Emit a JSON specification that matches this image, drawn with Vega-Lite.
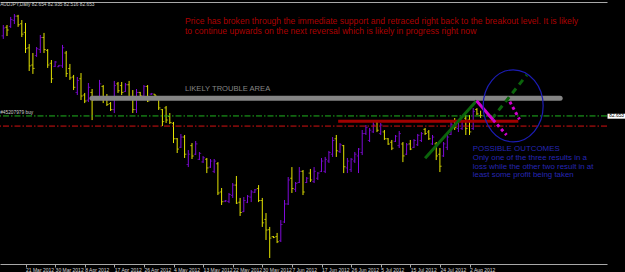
{
  "$schema": "https://vega.github.io/schema/vega-lite/v6.json",
  "autosize": {"type": "none"},
  "width": 607,
  "height": 262,
  "padding": {"left": 0, "top": 2, "right": 18, "bottom": 8},
  "background": "#000000",
  "config": {"view": {"stroke": null}, "font": "Liberation Sans", "text": {"font": "Liberation Sans"}},
  "datasets": {
    "bars": [
      {"i":0,"o":87.30,"h":87.93,"l":87.12,"c":87.75},
      {"i":1,"o":87.80,"h":87.93,"l":87.29,"c":87.64},
      {"i":2,"o":87.85,"h":88.40,"l":87.76,"c":88.25},
      {"i":3,"o":88.20,"h":88.57,"l":87.99,"c":88.45},
      {"i":4,"o":88.45,"h":88.52,"l":87.82,"c":87.95},
      {"i":5,"o":88.00,"h":88.22,"l":87.23,"c":87.40},
      {"i":6,"o":87.50,"h":88.05,"l":86.30,"c":86.55},
      {"i":7,"o":86.60,"h":86.82,"l":85.25,"c":85.55},
      {"i":8,"o":85.60,"h":86.30,"l":85.08,"c":85.40},
      {"i":9,"o":86.15,"h":86.65,"l":86.07,"c":86.55},
      {"i":10,"o":86.50,"h":87.35,"l":86.30,"c":87.20},
      {"i":11,"o":87.20,"h":87.47,"l":86.30,"c":86.50},
      {"i":12,"o":86.45,"h":86.53,"l":85.43,"c":85.60},
      {"i":13,"o":85.70,"h":85.89,"l":84.55,"c":84.80},
      {"i":14,"o":85.52,"h":85.83,"l":85.48,"c":85.78},
      {"i":15,"o":85.50,"h":85.60,"l":85.48,"c":85.58},
      {"i":16,"o":85.55,"h":86.77,"l":85.43,"c":86.60},
      {"i":17,"o":86.30,"h":86.42,"l":84.90,"c":85.10},
      {"i":18,"o":85.40,"h":85.66,"l":84.73,"c":84.85},
      {"i":19,"o":84.90,"h":85.02,"l":84.14,"c":84.30},
      {"i":20,"o":84.00,"h":84.90,"l":83.85,"c":84.70},
      {"i":21,"o":84.80,"h":85.13,"l":83.56,"c":83.80},
      {"i":22,"o":83.85,"h":83.97,"l":83.38,"c":83.50},
      {"i":23,"o":83.55,"h":84.55,"l":83.44,"c":84.30},
      {"i":24,"o":84.00,"h":84.20,"l":82.39,"c":83.56},
      {"i":25,"o":83.70,"h":83.73,"l":83.56,"c":83.58},
      {"i":26,"o":83.65,"h":84.73,"l":83.56,"c":84.50},
      {"i":27,"o":84.35,"h":84.43,"l":83.38,"c":83.60},
      {"i":28,"o":83.70,"h":83.91,"l":83.21,"c":83.30},
      {"i":29,"o":83.35,"h":83.44,"l":82.92,"c":83.00},
      {"i":30,"o":83.00,"h":84.67,"l":82.80,"c":84.40},
      {"i":31,"o":84.50,"h":84.61,"l":83.97,"c":84.10},
      {"i":32,"o":84.40,"h":84.61,"l":83.85,"c":84.00},
      {"i":33,"o":84.05,"h":84.55,"l":84.03,"c":84.45},
      {"i":34,"o":84.45,"h":84.67,"l":83.56,"c":83.70},
      {"i":35,"o":83.75,"h":84.14,"l":82.80,"c":83.00},
      {"i":36,"o":83.00,"h":84.20,"l":82.80,"c":84.00},
      {"i":37,"o":84.00,"h":84.03,"l":83.73,"c":83.80},
      {"i":38,"o":83.80,"h":84.43,"l":83.56,"c":84.35},
      {"i":39,"o":84.35,"h":84.43,"l":83.44,"c":83.50},
      {"i":40,"o":83.90,"h":83.97,"l":83.85,"c":83.92},
      {"i":41,"o":83.90,"h":83.91,"l":83.79,"c":83.80},
      {"i":42,"o":83.75,"h":83.79,"l":82.98,"c":83.10},
      {"i":43,"o":83.00,"h":83.03,"l":82.04,"c":82.30},
      {"i":44,"o":83.10,"h":83.21,"l":82.22,"c":82.40},
      {"i":45,"o":82.60,"h":82.80,"l":82.16,"c":82.25},
      {"i":46,"o":82.20,"h":82.28,"l":81.05,"c":81.30},
      {"i":47,"o":81.30,"h":81.34,"l":80.47,"c":80.70},
      {"i":48,"o":80.80,"h":81.58,"l":80.76,"c":81.40},
      {"i":49,"o":81.40,"h":81.52,"l":80.18,"c":80.40},
      {"i":50,"o":79.80,"h":80.64,"l":79.65,"c":80.40},
      {"i":51,"o":80.90,"h":81.05,"l":80.12,"c":80.30},
      {"i":52,"o":80.40,"h":81.17,"l":80.35,"c":81.00},
      {"i":53,"o":80.10,"h":80.53,"l":80.06,"c":80.45},
      {"i":54,"o":79.95,"h":80.29,"l":79.89,"c":80.20},
      {"i":55,"o":80.10,"h":80.18,"l":79.30,"c":79.60},
      {"i":56,"o":79.65,"h":80.12,"l":79.60,"c":80.00},
      {"i":57,"o":79.40,"h":80.12,"l":79.30,"c":80.00},
      {"i":58,"o":79.85,"h":79.94,"l":78.02,"c":78.14},
      {"i":59,"o":78.20,"h":78.43,"l":77.44,"c":77.63},
      {"i":60,"o":77.66,"h":77.73,"l":77.61,"c":77.68},
      {"i":61,"o":77.65,"h":78.14,"l":77.55,"c":78.05},
      {"i":62,"o":78.00,"h":78.72,"l":77.85,"c":78.60},
      {"i":63,"o":78.60,"h":79.13,"l":77.50,"c":77.55},
      {"i":64,"o":77.60,"h":77.85,"l":76.80,"c":77.00},
      {"i":65,"o":77.05,"h":77.90,"l":77.03,"c":77.70},
      {"i":66,"o":77.60,"h":78.02,"l":77.55,"c":77.95},
      {"i":67,"o":77.90,"h":78.31,"l":77.61,"c":78.20},
      {"i":68,"o":78.18,"h":78.37,"l":78.14,"c":78.33},
      {"i":69,"o":78.40,"h":78.60,"l":77.61,"c":77.70},
      {"i":70,"o":77.70,"h":77.85,"l":76.16,"c":76.40},
      {"i":71,"o":76.60,"h":76.97,"l":75.40,"c":75.98},
      {"i":72,"o":76.00,"h":76.16,"l":74.35,"c":75.51},
      {"i":73,"o":75.60,"h":75.63,"l":75.51,"c":75.55},
      {"i":74,"o":75.60,"h":75.81,"l":75.22,"c":75.30},
      {"i":75,"o":75.35,"h":76.56,"l":75.28,"c":76.30},
      {"i":76,"o":76.45,"h":77.73,"l":76.39,"c":77.50},
      {"i":77,"o":77.50,"h":79.07,"l":77.44,"c":78.90},
      {"i":78,"o":79.00,"h":79.65,"l":78.14,"c":78.40},
      {"i":79,"o":78.35,"h":78.78,"l":78.20,"c":78.70},
      {"i":80,"o":78.75,"h":79.65,"l":78.72,"c":79.40},
      {"i":81,"o":79.40,"h":79.48,"l":78.02,"c":78.20},
      {"i":82,"o":78.75,"h":79.07,"l":78.72,"c":79.00},
      {"i":83,"o":79.30,"h":79.54,"l":78.78,"c":78.90},
      {"i":84,"o":78.80,"h":79.65,"l":78.72,"c":79.40},
      {"i":85,"o":79.00,"h":79.36,"l":78.90,"c":79.30},
      {"i":86,"o":79.40,"h":80.18,"l":79.36,"c":80.00},
      {"i":87,"o":79.40,"h":80.24,"l":79.30,"c":80.10},
      {"i":88,"o":80.00,"h":80.59,"l":79.89,"c":80.50},
      {"i":89,"o":80.40,"h":81.40,"l":80.24,"c":81.20},
      {"i":90,"o":81.30,"h":81.52,"l":80.24,"c":80.60},
      {"i":91,"o":80.55,"h":81.05,"l":80.47,"c":80.95},
      {"i":92,"o":80.90,"h":80.94,"l":79.30,"c":79.67},
      {"i":93,"o":79.60,"h":80.18,"l":79.30,"c":80.00},
      {"i":94,"o":79.50,"h":80.18,"l":79.36,"c":80.10},
      {"i":95,"o":80.00,"h":80.53,"l":79.89,"c":80.40},
      {"i":96,"o":80.30,"h":80.76,"l":79.30,"c":80.70},
      {"i":97,"o":80.50,"h":81.81,"l":80.35,"c":81.60},
      {"i":98,"o":81.60,"h":82.10,"l":81.52,"c":81.95},
      {"i":99,"o":81.20,"h":81.93,"l":81.11,"c":81.80},
      {"i":100,"o":81.70,"h":82.28,"l":81.64,"c":82.10},
      {"i":101,"o":82.30,"h":82.39,"l":81.69,"c":81.80},
      {"i":102,"o":81.60,"h":82.22,"l":81.52,"c":82.10},
      {"i":103,"o":81.70,"h":81.81,"l":81.23,"c":81.30},
      {"i":104,"o":81.30,"h":81.34,"l":80.94,"c":81.00},
      {"i":105,"o":81.10,"h":81.23,"l":80.64,"c":80.75},
      {"i":106,"o":81.15,"h":81.52,"l":81.11,"c":81.45},
      {"i":107,"o":80.90,"h":81.75,"l":80.76,"c":81.60},
      {"i":108,"o":81.00,"h":81.11,"l":79.94,"c":80.30},
      {"i":109,"o":80.40,"h":81.05,"l":80.35,"c":80.95},
      {"i":110,"o":81.00,"h":81.23,"l":80.64,"c":80.70},
      {"i":111,"o":80.80,"h":81.28,"l":80.76,"c":81.20},
      {"i":112,"o":80.95,"h":81.58,"l":80.88,"c":81.50},
      {"i":113,"o":81.20,"h":81.69,"l":81.11,"c":81.60},
      {"i":114,"o":81.85,"h":81.93,"l":81.52,"c":81.60},
      {"i":115,"o":81.70,"h":81.81,"l":81.23,"c":81.30},
      {"i":116,"o":81.00,"h":81.52,"l":80.94,"c":81.40},
      {"i":117,"o":81.00,"h":81.11,"l":80.06,"c":80.30},
      {"i":118,"o":80.40,"h":80.76,"l":79.36,"c":79.70},
      {"i":119,"o":80.30,"h":81.11,"l":80.24,"c":81.00},
      {"i":120,"o":80.80,"h":81.52,"l":80.64,"c":81.40},
      {"i":121,"o":81.55,"h":82.28,"l":81.52,"c":82.15},
      {"i":122,"o":82.30,"h":82.51,"l":81.81,"c":81.95},
      {"i":123,"o":81.90,"h":82.39,"l":81.69,"c":82.30},
      {"i":124,"o":81.90,"h":82.39,"l":81.81,"c":82.30},
      {"i":125,"o":82.50,"h":82.68,"l":81.52,"c":81.90},
      {"i":126,"o":82.40,"h":82.68,"l":81.52,"c":81.70},
      {"i":127,"o":81.90,"h":83.09,"l":81.81,"c":82.90},
      {"i":128,"o":83.00,"h":83.09,"l":82.68,"c":82.75},
      {"i":129,"o":82.654,"h":82.935,"l":82.516,"c":82.653}
    ],
    "segs": [
      {"seg":"zone","i":23.97,"p":83.66},{"seg":"zone","i":150.5,"p":83.66},
      {"seg":"resist","i":90.5,"p":82.32},{"seg":"resist","i":139.2,"p":82.32},
      {"seg":"up","i":114.0,"p":80.16},{"seg":"up","i":127.9,"p":83.52},
      {"seg":"pull","i":127.9,"p":83.52},{"seg":"pull","i":132.4,"p":82.39},
      {"seg":"up2","i":132.0,"p":82.45},{"seg":"up2","i":141.5,"p":85.02},
      {"seg":"loss","i":132.4,"p":82.39},{"seg":"loss","i":136.0,"p":81.52},
      {"seg":"pull2","i":136.9,"p":83.46},{"seg":"pull2","i":139.5,"p":82.43}
    ],
    "levels": [
      {"name":"buy","p":82.63},
      {"name":"stop","p":82.04}
    ],
    "circle": [{"i":137.8,"p":83.22}],
    "notes": [
      {"kind":"red","i":49.1,"p":88.19,"text":"Price has broken through the immediate support and retraced right back to the breakout level. It is likely"},
      {"kind":"red","i":49.1,"p":87.56,"text":"to continue upwards on the next reversal which is likely in progress right now"},
      {"kind":"gray","i":49.1,"p":84.18,"text":"LIKELY TROUBLE AREA"},
      {"kind":"blue","i":126.9,"p":80.685,"text":"POSSIBLE OUTCOMES"},
      {"kind":"blue","i":126.9,"p":80.18,"text":"Only one of the three results in a"},
      {"kind":"blue","i":126.9,"p":79.68,"text":"loss while the other two result in at"},
      {"kind":"blue","i":126.9,"p":79.19,"text":"least some profit being taken"},
      {"kind":"small","i":-0.85,"p":89.10,"text":"AUDJPY,Daily  82.654 82.935 82.516 82.653"},
      {"kind":"small","i":-0.85,"p":82.80,"text":"#45207979 buy"}
    ],
    "tag": [{"i":163.3,"i2":168.5,"p":82.76,"p2":82.47,"text":"82.653","ti":163.8,"tp":82.615}]
  },
  "layer": [
    {
      "data": {"name": "bars"},
      "mark": {"type": "rule", "strokeWidth": 1},
      "encoding": {
        "x": {"field": "i", "type": "quantitative",
          "scale": {"domain": [-0.892, 163.16], "nice": false, "zero": false},
          "axis": {"orient": "bottom", "title": null, "grid": false,
            "values": [-2, 6, 14, 22, 30, 38, 46, 54, 62, 70, 78, 86, 94, 102, 110, 118, 126],
            "labelExpr": "['12 Mar 2012','21 Mar 2012','30 Mar 2012','8 Apr 2012','17 Apr 2012','26 Apr 2012','4 May 2012','13 May 2012','22 May 2012','30 May 2012','7 Jun 2012','17 Jun 2012','26 Jun 2012','5 Jul 2012','15 Jul 2012','24 Jul 2012','2 Aug 2012'][(datum.value + 2) / 8]",
            "labelAlign": "left", "labelBaseline": "top", "labelPadding": 0, "tickSize": 3,
            "labelFontSize": 5, "labelColor": "#d8d8d8", "labelFont": "Liberation Sans",
            "labelOverlap": false, "labelFlush": false, "labelBound": false,
            "domainColor": "#a8a8a8", "tickColor": "#a8a8a8", "domainWidth": 1}},
        "y": {"field": "l", "type": "quantitative",
          "scale": {"domain": [74.0, 89.272], "nice": false, "zero": false},
          "axis": {"orient": "right", "title": null, "grid": false,
            "values": [89.29, 88.415, 87.515, 86.615, 85.715, 84.84, 83.94, 83.04, 82.14, 81.265, 80.365, 79.465, 78.565, 77.69, 76.79, 75.89, 74.99, 74.115],
            "format": ".3f", "labelAlign": "left", "labelBaseline": "middle", "labelPadding": 1, "tickSize": 2,
            "labelFontSize": 4.8, "labelColor": "#d8d8d8", "labelFont": "Liberation Sans",
            "labelOverlap": false, "labelFlush": false, "labelBound": false,
            "domainColor": "#a8a8a8", "tickColor": "#a8a8a8"}},
        "y2": {"field": "h"},
        "color": {"condition": {"test": "datum.c >= datum.o", "value": "#7f0ad8"}, "value": "#e6e600"}
      }
    },
    {
      "data": {"name": "bars"},
      "mark": {"type": "tick", "orient": "horizontal", "size": 1.8, "thickness": 1, "xOffset": -0.9},
      "encoding": {
        "x": {"field": "i", "type": "quantitative", "axis": null},
        "y": {"field": "o", "type": "quantitative", "axis": null},
        "color": {"condition": {"test": "datum.c >= datum.o", "value": "#7f0ad8"}, "value": "#e6e600"}
      }
    },
    {
      "data": {"name": "bars"},
      "mark": {"type": "tick", "orient": "horizontal", "size": 1.8, "thickness": 1, "xOffset": 0.9},
      "encoding": {
        "x": {"field": "i", "type": "quantitative", "axis": null},
        "y": {"field": "c", "type": "quantitative", "axis": null},
        "color": {"condition": {"test": "datum.c >= datum.o", "value": "#7f0ad8"}, "value": "#e6e600"}
      }
    },
    {
      "data": {"name": "levels"},
      "transform": [{"filter": "datum.name == 'buy'"}],
      "mark": {"type": "rule", "color": "#1fb41f", "strokeWidth": 1, "strokeDash": [6, 2, 1.5, 2]},
      "encoding": {"y": {"field": "p", "type": "quantitative", "axis": null}}
    },
    {
      "data": {"name": "levels"},
      "transform": [{"filter": "datum.name == 'stop'"}],
      "mark": {"type": "rule", "color": "#d41010", "strokeWidth": 1, "strokeDash": [6, 2, 1.5, 2]},
      "encoding": {"y": {"field": "p", "type": "quantitative", "axis": null}}
    },
    {
      "data": {"name": "segs"},
      "transform": [{"filter": "datum.seg == 'zone'"}],
      "mark": {"type": "line", "color": "#858585", "strokeWidth": 5, "strokeCap": "round"},
      "encoding": {
        "x": {"field": "i", "type": "quantitative",
          "axis": {"orient": "top", "title": null, "labels": false, "ticks": false, "grid": false, "domainColor": "#a8a8a8"}},
        "y": {"field": "p", "type": "quantitative", "axis": null}
      }
    },
    {
      "data": {"name": "segs"},
      "transform": [{"filter": "datum.seg == 'resist'"}],
      "mark": {"type": "line", "color": "#a00000", "strokeWidth": 3},
      "encoding": {
        "x": {"field": "i", "type": "quantitative", "axis": null},
        "y": {"field": "p", "type": "quantitative", "axis": null}
      }
    },
    {
      "data": {"name": "segs"},
      "transform": [{"filter": "datum.seg == 'up'"}],
      "mark": {"type": "line", "color": "#0b640b", "strokeWidth": 3},
      "encoding": {
        "x": {"field": "i", "type": "quantitative", "axis": null},
        "y": {"field": "p", "type": "quantitative", "axis": null}
      }
    },
    {
      "data": {"name": "segs"},
      "transform": [{"filter": "datum.seg == 'up2'"}],
      "mark": {"type": "line", "color": "#0b640b", "strokeWidth": 3, "strokeDash": [6, 5]},
      "encoding": {
        "x": {"field": "i", "type": "quantitative", "axis": null},
        "y": {"field": "p", "type": "quantitative", "axis": null}
      }
    },
    {
      "data": {"name": "segs"},
      "transform": [{"filter": "datum.seg == 'pull'"}],
      "mark": {"type": "line", "color": "#d000d0", "strokeWidth": 3},
      "encoding": {
        "x": {"field": "i", "type": "quantitative", "axis": null},
        "y": {"field": "p", "type": "quantitative", "axis": null}
      }
    },
    {
      "data": {"name": "segs"},
      "transform": [{"filter": "datum.seg == 'loss' || datum.seg == 'pull2'"}],
      "mark": {"type": "line", "color": "#d000d0", "strokeWidth": 3, "strokeDash": [3, 3]},
      "encoding": {
        "x": {"field": "i", "type": "quantitative", "axis": null},
        "y": {"field": "p", "type": "quantitative", "axis": null},
        "detail": {"field": "seg"}
      }
    },
    {
      "data": {"name": "circle"},
      "mark": {"type": "point", "filled": false, "stroke": "#1c1cb4", "strokeWidth": 1.2, "size": 5184,
        "shape": "M -0.833 0 A 0.833 1 0 1 0 0.833 0 A 0.833 1 0 1 0 -0.833 0 Z", "opacity": 1},
      "encoding": {
        "x": {"field": "i", "type": "quantitative", "axis": null},
        "y": {"field": "p", "type": "quantitative", "axis": null}
      }
    },
    {
      "data": {"name": "notes"},
      "transform": [{"filter": "datum.kind == 'red'"}],
      "mark": {"type": "text", "align": "left", "baseline": "middle", "fontSize": 8.6, "color": "#ac0000"},
      "encoding": {
        "x": {"field": "i", "type": "quantitative", "axis": null},
        "y": {"field": "p", "type": "quantitative", "axis": null},
        "text": {"field": "text"}
      }
    },
    {
      "data": {"name": "notes"},
      "transform": [{"filter": "datum.kind == 'gray'"}],
      "mark": {"type": "text", "align": "left", "baseline": "middle", "fontSize": 7.6, "color": "#858585"},
      "encoding": {
        "x": {"field": "i", "type": "quantitative", "axis": null},
        "y": {"field": "p", "type": "quantitative", "axis": null},
        "text": {"field": "text"}
      }
    },
    {
      "data": {"name": "notes"},
      "transform": [{"filter": "datum.kind == 'blue'"}],
      "mark": {"type": "text", "align": "left", "baseline": "middle", "fontSize": 7.9, "color": "#2626b4"},
      "encoding": {
        "x": {"field": "i", "type": "quantitative", "axis": null},
        "y": {"field": "p", "type": "quantitative", "axis": null},
        "text": {"field": "text"}
      }
    },
    {
      "data": {"name": "notes"},
      "transform": [{"filter": "datum.kind == 'small'"}],
      "mark": {"type": "text", "align": "left", "baseline": "middle", "fontSize": 4.8, "color": "#d0d0d0"},
      "encoding": {
        "x": {"field": "i", "type": "quantitative", "axis": null},
        "y": {"field": "p", "type": "quantitative", "axis": null},
        "text": {"field": "text"}
      }
    },
    {
      "data": {"name": "tag"},
      "mark": {"type": "rect", "color": "#ffffff"},
      "encoding": {
        "x": {"field": "i", "type": "quantitative", "axis": null},
        "x2": {"field": "i2"},
        "y": {"field": "p", "type": "quantitative", "axis": null},
        "y2": {"field": "p2"}
      }
    },
    {
      "data": {"name": "tag"},
      "mark": {"type": "text", "align": "left", "baseline": "middle", "fontSize": 4.8, "color": "#000000"},
      "encoding": {
        "x": {"field": "ti", "type": "quantitative", "axis": null},
        "y": {"field": "tp", "type": "quantitative", "axis": null},
        "text": {"field": "text"}
      }
    }
  ],
  "resolve": {"axis": {"x": "independent"}}
}
